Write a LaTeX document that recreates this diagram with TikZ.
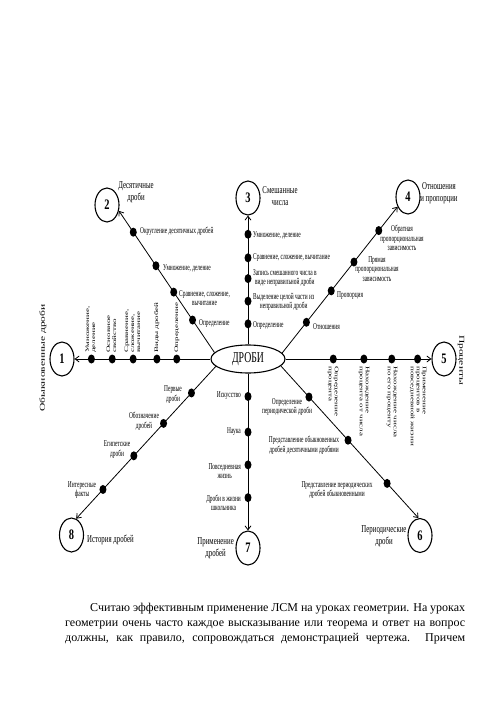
\documentclass[tikz,border=0pt]{standalone}
\usepackage{fontspec}
\setmainfont{Liberation Serif}
\newfontfamily\labf[FakeStretch=0.6]{Liberation Serif}
\newfontfamily\ttlf[FakeStretch=0.65]{Liberation Serif}
\newfontfamily\numf[FakeStretch=0.72]{Liberation Serif}
\newfontfamily\mainf[FakeStretch=0.65]{Liberation Serif}
\usetikzlibrary{shapes.geometric,arrows.meta}
\newcommand\vtxt[1]{\scalebox{1}[0.6]{\begin{tabular}{@{}l@{}}#1\end{tabular}}}
\newcommand\vttl[1]{\scalebox{1}[0.65]{#1}}
\begin{document}
\begin{tikzpicture}[x=1pt,y=-1pt,
  lab/.style={font=\labf\fontsize{9}{9.5}\selectfont, inner sep=0pt, align=center},
  ttl/.style={font=\ttlf\fontsize{10.5}{12}\selectfont, inner sep=0pt, align=center},
  bub/.style={ellipse, draw, line width=1.1pt, minimum width=24pt, minimum height=34pt, inner sep=0pt, font=\numf\bfseries\fontsize{14.5}{15}\selectfont},
  dot/.style={ellipse, fill=black, minimum width=7pt, minimum height=9pt, inner sep=0pt},
  conn/.style={line width=0.8pt, -{Straight Barb[length=4pt,width=6pt]}},
  vlab/.style={font=\fontsize{9}{10}\selectfont, inner sep=0pt},
  vttl/.style={font=\fontsize{11.5}{12}\selectfont, inner sep=0pt},
  para/.style={font=\fontsize{12}{14}\selectfont, inner sep=0pt, anchor=base west}]
\useasboundingbox (0,0) rectangle (500,708);

% centre
\node[ellipse, draw, line width=1.1pt, minimum width=74pt, minimum height=28pt, inner sep=0pt,
  font=\mainf\fontsize{15}{15}\selectfont] (C) at (248,359) {ДРОБИ};

% bubbles
\node[bub] (n1) at (62,359) {1};
\node[bub] (n2) at (107,205) {2};
\node[bub] (n3) at (248,198) {3};
\node[bub] (n4) at (408,197) {4};
\node[bub] (n5) at (444,359) {5};
\node[bub] (n6) at (420,535.5) {6};
\node[bub] (n7) at (248,548) {7};
\node[bub] (n8) at (71.5,535) {8};

% branch 1
\draw[conn] (C.west) -- (n1.east)
  node[dot,pos=0.248] (d11) {} node[dot,pos=0.394] (d12) {}
  node[dot,pos=0.569] (d13) {} node[dot,pos=0.723] (d14) {}
  node[dot,pos=0.876] (d15) {};
\node[vlab, rotate=90, anchor=west] (l11) at (177,353) {\vtxt{Определение}};
\node[vlab, rotate=90, anchor=west] (l12) at (157,353) {\vtxt{Виды дробей}};
\node[vlab, rotate=90, anchor=west] (l13) at (133,353) {\vtxt{Сравнение,\\сложение,\\вычитание}};
\node[vlab, rotate=90, anchor=west] (l14) at (112,353) {\vtxt{Основное\\свойство}};
\node[vlab, rotate=90, anchor=west] (l15) at (91,353) {\vtxt{Умножение,\\деление}};
\node[vttl, rotate=90] (t1) at (43,358) {\vttl{Обыкновенные дроби}};

% branch 2
\draw[conn] (C.169) -- (n2.-26)
  node[dot,pos=0.229] (d21) {} node[dot,pos=0.426] (d22) {}
  node[dot,pos=0.612] (d23) {} node[dot,pos=0.849] (d24) {};
\node[lab, anchor=west] (l21) at (199,323) {Определение};
\node[lab, anchor=west] (l22) at (179,298) {Сравнение, сложение,\\вычитание};
\node[lab, anchor=west] (l23) at (163,268) {Умножение, деление};
\node[lab, anchor=west] (l24) at (140,231) {Округление десятичных дробей};
\node[ttl] (t2) at (136,192) {Десятичные\\дроби};

% branch 3
\draw[conn] (C.north) -- (n3.south)
  node[dot,pos=0.160] (d31) {} node[dot,pos=0.336] (d32) {}
  node[dot,pos=0.511] (d33) {} node[dot,pos=0.672] (d34) {}
  node[dot,pos=0.855] (d35) {};
\node[lab, anchor=west] (l31) at (253,325) {Определение};
\node[lab, anchor=west] (l32) at (253,302) {Выделение целой части из\\неправильной дроби};
\node[lab, anchor=west] (l33) at (253,278) {Запись смешанного числа в\\виде неправильной дроби};
\node[lab, anchor=west] (l34) at (253,257) {Сравнение, сложение, вычитание};
\node[lab, anchor=west] (l35) at (253,235) {Умножение, деление};
\node[ttl] (t3) at (280,196) {Смешанные\\числа};

% branch 4
\draw[conn] (C.10) -- (n4.223)
  node[dot,pos=0.21] (d41) {} node[dot,pos=0.425] (d42) {}
  node[dot,pos=0.622] (d43) {} node[dot,pos=0.837] (d44) {};
\node[lab, anchor=west] (l41) at (313,327) {Отношения};
\node[lab, anchor=west] (l42) at (337,296) {Пропорция};
\node[lab] (l43) at (377,269) {Прямая\\пропорциональная\\зависимость};
\node[lab] (l44) at (402,238) {Обратная\\пропорциональная\\зависимость};
\node[ttl] (t4) at (439,193) {Отношения\\и пропорции};

% branch 5
\draw[conn] (C.east) -- (n5.west)
  node[dot,pos=0.327] (d51) {} node[dot,pos=0.537] (d52) {}
  node[dot,pos=0.728] (d53) {} node[dot,pos=0.905] (d54) {};
\node[vlab, rotate=-90, anchor=west] (l51) at (333,366) {\vtxt{Определение\\процента}};
\node[vlab, rotate=-90, anchor=west] (l52) at (364,366) {\vtxt{Нахождение\\процента от числа}};
\node[vlab, rotate=-90, anchor=west] (l53) at (392,366) {\vtxt{Нахождение числа\\по его проценту}};
\node[vlab, rotate=-90, anchor=west] (l54) at (418,366) {\vtxt{Применение\\процентов в\\повседневной жизни}};
\node[vttl, rotate=-90] (t5) at (461,360) {\vttl{Проценты}};

% branch 6
\draw[conn] (C.-12.5) -- (n6.95)
  node[dot,pos=0.204] (d61) {} node[dot,pos=0.488] (d62) {}
  node[dot,pos=0.772] (d63) {};
\node[lab] (l61) at (287,407) {Определение\\периодической дроби};
\node[lab] (l62) at (304,445) {Представление обыкновенных\\дробей десятичными дробями};
\node[lab] (l63) at (337,490) {Представление периодических\\дробей обыкновенными};
\node[ttl] (t6) at (384,536) {Периодические\\дроби};

% branch 7
\draw[conn] (C.south) -- (n7.north)
  node[dot,pos=0.146] (d71) {} node[dot,pos=0.373] (d72) {}
  node[dot,pos=0.582] (d73) {} node[dot,pos=0.791] (d74) {};
\node[lab, anchor=east] (l71) at (241,396) {Искусство};
\node[lab, anchor=east] (l72) at (241,432) {Наука};
\node[lab, anchor=east] (l73) at (241,471) {Повседневная\\жизнь};
\node[lab, anchor=east] (l74) at (241,503) {Дроби в жизни\\школьника};
\node[ttl, anchor=east] (t7) at (234,548) {Применение\\дробей};

% branch 8
\draw[conn] (C.193) -- (n8.74)
  node[dot,pos=0.174] (d81) {} node[dot,pos=0.374] (d82) {}
  node[dot,pos=0.587] (d83) {} node[dot,pos=0.808] (d84) {};
\node[lab] (l81) at (173,394.5) {Первые\\дроби};
\node[lab] (l82) at (144,421) {Обозначение\\дробей};
\node[lab] (l83) at (117,449.5) {Египетские\\дроби};
\node[lab] (l84) at (82,490) {Интересные\\факты};
\node[ttl, anchor=west] (t8) at (87,540) {История дробей};

% paragraph
\node[para] (p1) at (90,611) {\makebox[375pt][s]{Считаю эффективным применение ЛСМ на уроках геометрии. На уроках}};
\node[para] (p2) at (65,626) {\makebox[400pt][s]{геометрии очень часто каждое высказывание или теорема и ответ на вопрос}};
\node[para] (p3) at (65,641) {\makebox[400pt][s]{должны, как правило, сопровождаться демонстрацией чертежа. Причем}};
\end{tikzpicture}
\end{document}
